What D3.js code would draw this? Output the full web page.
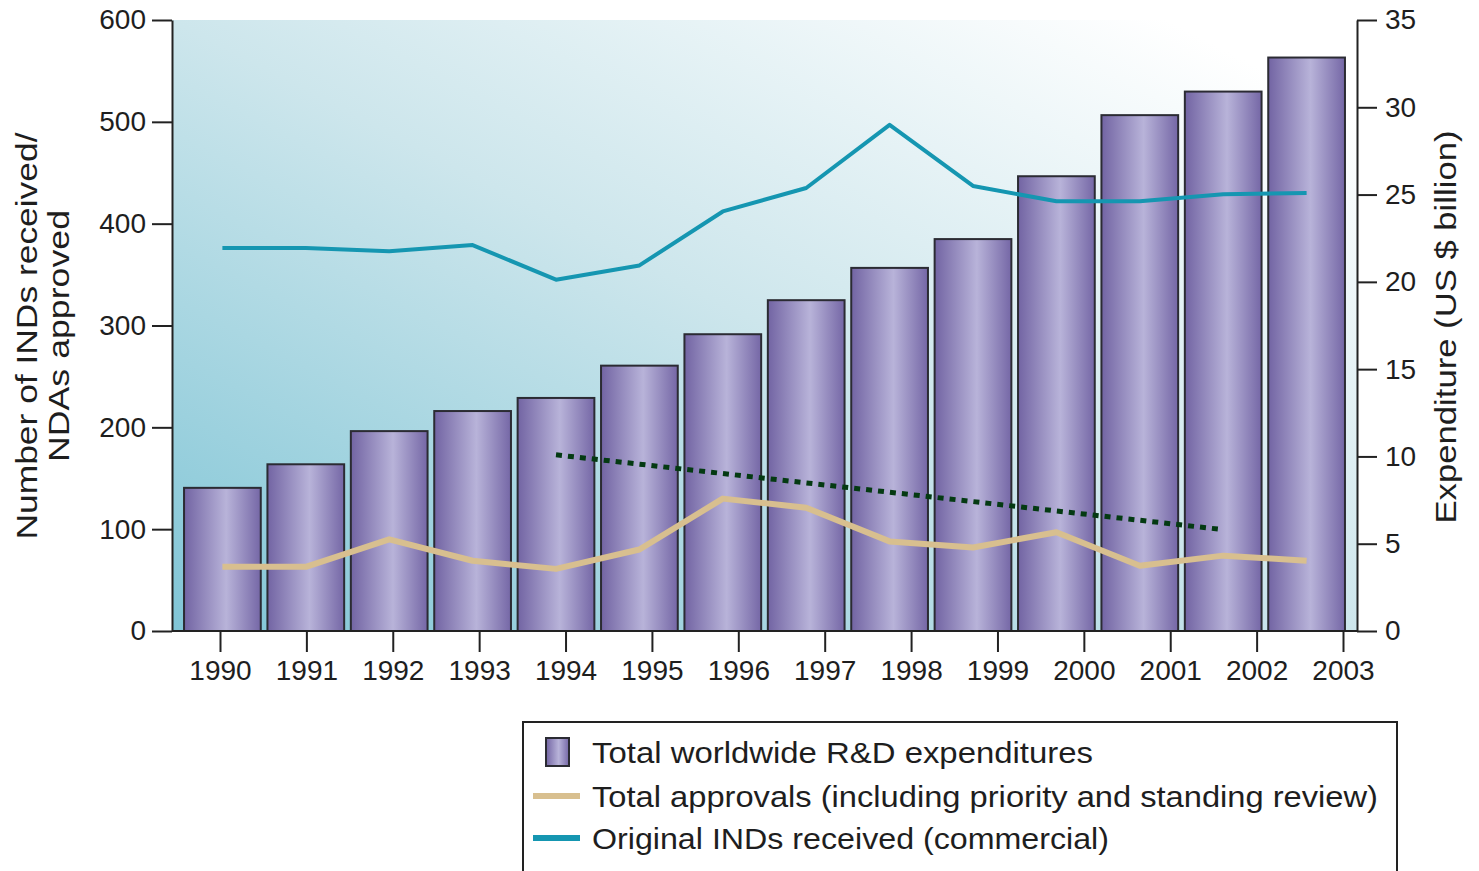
<!DOCTYPE html>
<html><head><meta charset="utf-8">
<script src="https://cdn.jsdelivr.net/npm/d3@7"></script>
<style>
body{margin:0;background:#fff}
text{font-family:"Liberation Sans",Arial,Helvetica,sans-serif;fill:#1e1e1e}
</style>
</head><body>
<svg id="chart" width="1479" height="871"></svg>
<script>
// ---- data ----
const years = [1990,1991,1992,1993,1994,1995,1996,1997,1998,1999,2000,2001,2002,2003];
const rdExpenditure = [8.2,9.55,11.45,12.6,13.35,15.2,17.0,18.95,20.8,22.45,26.05,29.55,30.9,32.85];
const approvals = [63,63,90,69,61,80,130,121,88,82,97,64,74,69];
const indsReceived = [376,376,373,379,345,359,412,435,497,437,422,422,429,430];
const trendYears = [1994,2001.95];
const trendValues = [173,100];
const leftTicks = [0,100,200,300,400,500,600];
const rightTicks = [0,5,10,15,20,25,30,35];
const legendLabels = ["Total worldwide R&D expenditures","Total approvals (including priority and standing review)","Original INDs received (commercial)"];
const leftTitle = ["Number of INDs received/","NDAs approved"];
const rightTitle = "Expenditure (US $ billion)";

// ---- layout ----
const plot={l:172,r:1357,t:20,b:631};
const svg=d3.select("#chart");
const defs=svg.append("defs");

const bg=defs.append("linearGradient").attr("id","bgGrad").attr("x1",0).attr("y1",1).attr("x2",1).attr("y2",0);
bg.append("stop").attr("offset",0).attr("stop-color","#80c5d6");
bg.append("stop").attr("offset",0.5).attr("stop-color","#cde6ec");
bg.append("stop").attr("offset",0.92).attr("stop-color","#ffffff");

const bgBar=defs.append("linearGradient").attr("id","barGrad").attr("x1",0).attr("y1",0).attr("x2",1).attr("y2",0);
bgBar.append("stop").attr("offset",0).attr("stop-color","#7264a3");
bgBar.append("stop").attr("offset",0.55).attr("stop-color","#b8b3d9");
bgBar.append("stop").attr("offset",1).attr("stop-color","#7567a6");

const blur=defs.append("filter").attr("id","soft").attr("x","-5%").attr("y","-50%").attr("width","110%").attr("height","200%");
blur.append("feGaussianBlur").attr("stdDeviation",0.7);

// scales
const yL=d3.scaleLinear().domain([0,600]).range([plot.b,plot.t]);
const yR=d3.scaleLinear().domain([0,35]).range([plot.b,plot.t]);
const xTick=d3.scalePoint().domain(years).range([220,1343]);
const xBand=d3.scaleBand().domain(years).range([180.7,1348.3]).paddingInner(0.08).paddingOuter(0.04);
const bw=xBand.bandwidth();
const xC=d3.scaleLinear().domain([years[0],years[years.length-1]])
  .range([xBand(years[0])+bw/2, xBand(years[years.length-1])+bw/2]);

// background
svg.append("rect").attr("x",plot.l).attr("y",plot.t).attr("width",plot.r-plot.l).attr("height",plot.b-plot.t).attr("fill","url(#bgGrad)");

// bars
svg.append("g").selectAll("rect").data(years).join("rect")
  .attr("x",d=>xBand(d)).attr("width",bw)
  .attr("y",(d,i)=>yR(rdExpenditure[i])).attr("height",(d,i)=>yR(0)-yR(rdExpenditure[i]))
  .attr("fill","url(#barGrad)").attr("stroke","#2b2b33").attr("stroke-width",2);

// lines
const lineA=d3.line().x((d,i)=>xC(years[i])).y(d=>yL(d));
svg.append("path").datum(approvals).attr("d",lineA).attr("fill","none")
  .attr("stroke","#d8bf8f").attr("stroke-width",6).attr("stroke-linejoin","round").attr("filter","url(#soft)");
svg.append("path").datum(indsReceived).attr("d",lineA).attr("fill","none")
  .attr("stroke","#1596b1").attr("stroke-width",4).attr("stroke-linejoin","round");
const lineT=d3.line().x((d,i)=>xC(trendYears[i])).y(d=>yL(d));
svg.append("path").datum(trendValues).attr("d",lineT).attr("fill","none")
  .attr("stroke","#043a12").attr("stroke-width",5).attr("stroke-dasharray","6,6");

// axes
const axL=svg.append("g").attr("transform",`translate(${plot.l},0)`)
  .call(d3.axisLeft(yL).tickValues(leftTicks).tickSize(20).tickSizeOuter(0).tickPadding(6));
const axR=svg.append("g").attr("transform",`translate(${plot.r},0)`)
  .call(d3.axisRight(yR).tickValues(rightTicks).tickSize(20).tickSizeOuter(0).tickPadding(8));
const axB=svg.append("g").attr("transform",`translate(0,${plot.b})`)
  .call(d3.axisBottom(xTick).tickSize(21).tickSizeOuter(0).tickPadding(8));
axB.select(".domain").remove();
svg.append("line").attr("x1",plot.l).attr("x2",plot.r).attr("y1",plot.b).attr("y2",plot.b).attr("stroke","#222").attr("stroke-width",2);
[axL,axR,axB].forEach(a=>{
  a.selectAll(".domain").attr("stroke","#222").attr("stroke-width",2);
  a.selectAll(".tick line").attr("stroke","#222").attr("stroke-width",2);
  a.selectAll(".tick text").attr("font-size",28).attr("fill","#1e1e1e")
   .attr("font-family","'Liberation Sans',Arial,sans-serif");
});

// axis titles
svg.append("text").attr("transform","translate(37,336) rotate(-90)").attr("text-anchor","middle")
  .attr("font-size",30).attr("textLength",407).attr("lengthAdjust","spacingAndGlyphs").text(leftTitle[0]);
svg.append("text").attr("transform","translate(69,336) rotate(-90)").attr("text-anchor","middle")
  .attr("font-size",30).attr("textLength",252).attr("lengthAdjust","spacingAndGlyphs").text(leftTitle[1]);
svg.append("text").attr("transform","translate(1456,327) rotate(-90)").attr("text-anchor","middle")
  .attr("font-size",30).attr("textLength",393).attr("lengthAdjust","spacingAndGlyphs").text(rightTitle);

// legend
const lg=svg.append("g");
lg.append("rect").attr("x",523).attr("y",722).attr("width",874).attr("height",170)
  .attr("fill","#fff").attr("stroke","#222").attr("stroke-width",2);
const rowY=[752,796,838];
const textLens=[501,786,517];
lg.append("rect").attr("x",546).attr("y",738).attr("width",23).attr("height",28)
  .attr("fill","url(#barGrad)").attr("stroke","#2b2b33").attr("stroke-width",2);
lg.append("line").attr("x1",533).attr("x2",580).attr("y1",rowY[1]).attr("y2",rowY[1])
  .attr("stroke","#d8bf8f").attr("stroke-width",6);
lg.append("line").attr("x1",533).attr("x2",580).attr("y1",rowY[2]).attr("y2",rowY[2])
  .attr("stroke","#1596b1").attr("stroke-width",6);
lg.selectAll("text.lt").data(legendLabels).join("text").attr("class","lt")
  .attr("x",592).attr("y",(d,i)=>rowY[i]+11).attr("font-size",30)
  .attr("textLength",(d,i)=>textLens[i]).attr("lengthAdjust","spacingAndGlyphs").text(d=>d);
</script>
</body></html>
